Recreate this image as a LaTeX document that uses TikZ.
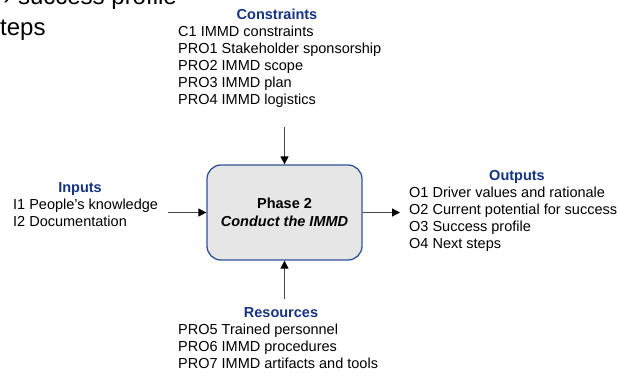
\documentclass[tikz,border=0pt]{standalone}
\usepackage{fontspec}
\setmainfont{Liberation Sans}
\usetikzlibrary{arrows.meta}
\definecolor{ttlblue}{RGB}{22,52,132}
\definecolor{boxblue}{RGB}{47,85,151}
\definecolor{boxfill}{RGB}{230,230,230}
\definecolor{arrowgray}{RGB}{70,70,70}
\begin{document}
\begin{tikzpicture}[x=1pt,y=-1pt,
  lbl/.style={font=\fontsize{14.5}{17}\selectfont, inner sep=0pt, anchor=base west},
  ttl/.style={font=\fontsize{14.5}{17}\selectfont\bfseries, text=ttlblue, inner sep=0pt, anchor=base},
  phase/.style={draw=boxblue, fill=boxfill, line width=1.3pt, rounded corners=14pt, minimum width=155pt, minimum height=95pt, align=center, font=\fontsize{14.5}{18}\selectfont\bfseries},
  flow/.style={draw=arrowgray, line width=1.3pt, -{Triangle[length=8pt,width=8pt,color=black,fill=black]}},
  big/.style={font=\fontsize{24}{29}\selectfont, inner sep=0pt}
]
\path[use as bounding box, fill=white] (0,0) rectangle (618,372);
\begin{scope}
  \clip (0,0) rectangle (618,372);
  \node[big, anchor=base east] (top1) at (177,5) {› success profile};
  \node[big, anchor=base west] (top2) at (-12,35) {steps};
\end{scope}

\node[phase] (box) at (284.5,212.5) {Phase 2\\ \textit{Conduct the IMMD}};

\node[ttl] (ctitle) at (277,19) {Constraints};
\foreach \t [count=\i] in {C1 IMMD constraints, PRO1 Stakeholder sponsorship, PRO2 IMMD scope, PRO3 IMMD plan, PRO4 IMMD logistics}
  \node[lbl] (c\i) at (178,{19+17*\i}) {\t};

\node[ttl] (ititle) at (80,192) {Inputs};
\foreach \t [count=\i] in {I1 People’s knowledge, I2 Documentation}
  \node[lbl] (in\i) at (13,{192+17*\i}) {\t};

\node[ttl] (otitle) at (517,180) {Outputs};
\foreach \t [count=\i] in {O1 Driver values and rationale, O2 Current potential for success, O3 Success profile, O4 Next steps}
  \node[lbl] (o\i) at (409,{180+17*\i}) {\t};

\node[ttl] (rtitle) at (281,317) {Resources};
\foreach \t [count=\i] in {PRO5 Trained personnel, PRO6 IMMD procedures, PRO7 IMMD artifacts and tools}
  \node[lbl] (r\i) at (178,{317+17*\i}) {\t};

\coordinate (ctop) at (284.5,127);
\coordinate (cbot) at (284.5,299);
\coordinate (cleft) at (168,212.5);
\coordinate (cright) at (400,212.5);
\draw[flow] (ctop) -- (box.north);
\draw[flow] (cbot) -- (box.south);
\draw[flow] (cleft) -- (box.west);
\draw[flow] (box.east) -- (cright);
\end{tikzpicture}
\end{document}
